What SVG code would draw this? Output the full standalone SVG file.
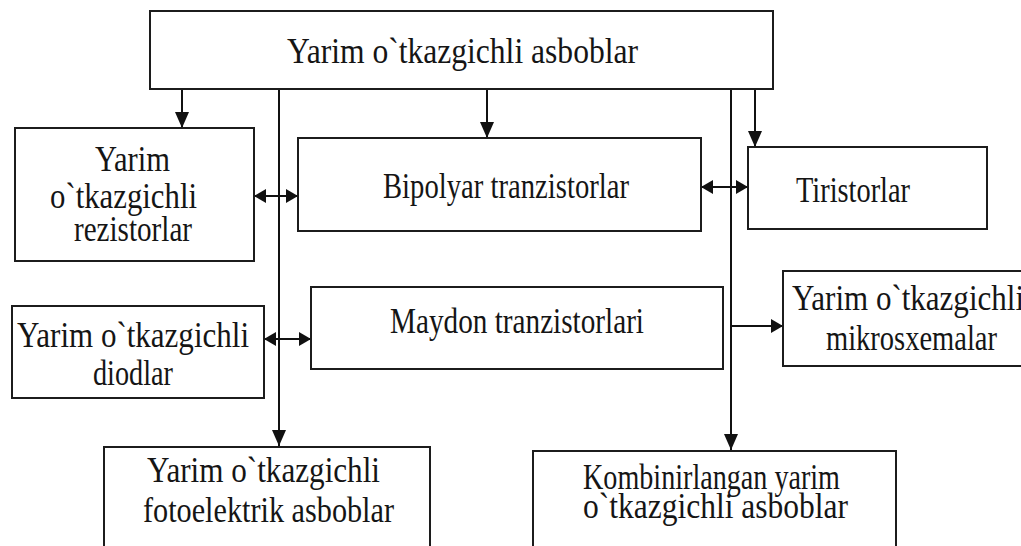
<svg xmlns="http://www.w3.org/2000/svg" width="1021" height="546" viewBox="0 0 1021 546">
  <style>
    .box { fill: #ffffff; stroke: #1c1c1c; stroke-width: 2; }
    .lbl { font-family: "Liberation Serif", "Times New Roman", serif; font-size: 36px; fill: #151515; }
    .wire { fill: none; stroke: #111111; stroke-width: 2; }
  </style>
  <defs>
    <!-- straight arrowhead for the vertical feeds -->
    <marker id="tip" viewBox="0 0 16 14" refX="16" refY="7" markerWidth="16" markerHeight="14" markerUnits="userSpaceOnUse" orient="auto-start-reverse">
      <path d="M0,0 L16,7 L0,14 Z" fill="#111111"/>
    </marker>
    <!-- shorter head used on the horizontal links -->
    <marker id="tipS" viewBox="0 0 12 14" refX="12" refY="7" markerWidth="12" markerHeight="14" markerUnits="userSpaceOnUse" orient="auto-start-reverse">
      <path d="M0,0 L12,7 L0,14 Z" fill="#111111"/>
    </marker>
  </defs>

  <rect width="1021" height="546" fill="#ffffff"/>

  <!-- connectors -->
  <g id="connectors">
    <line class="wire" x1="182" y1="89" x2="182" y2="128" marker-end="url(#tip)"/>
    <line class="wire" x1="487" y1="89" x2="487" y2="138" marker-end="url(#tip)"/>
    <line class="wire" x1="755" y1="89" x2="755" y2="147" marker-end="url(#tip)"/>
    <line class="wire" x1="279" y1="89" x2="279" y2="446" marker-end="url(#tip)"/>
    <line class="wire" x1="731" y1="89" x2="731" y2="450" marker-end="url(#tip)"/>
    <line class="wire" x1="254" y1="196" x2="298" y2="196" marker-start="url(#tipS)" marker-end="url(#tipS)"/>
    <line class="wire" x1="701" y1="187" x2="748" y2="187" marker-start="url(#tipS)" marker-end="url(#tipS)"/>
    <line class="wire" x1="264" y1="339" x2="311" y2="339" marker-start="url(#tipS)" marker-end="url(#tipS)"/>
    <line class="wire" x1="731" y1="326" x2="783" y2="326" marker-end="url(#tipS)"/>
  </g>

  <!-- top: semiconductor devices -->
  <g id="node-asboblar">
    <rect class="box" x="150" y="11" width="623" height="78"/>
    <text class="lbl" x="287" y="63" textLength="351" lengthAdjust="spacingAndGlyphs">Yarim o`tkazgichli asboblar</text>
  </g>

  <g id="node-rezistorlar">
    <rect class="box" x="15" y="128" width="239" height="133"/>
    <text class="lbl" x="95" y="171" textLength="75" lengthAdjust="spacingAndGlyphs">Yarim</text>
    <text class="lbl" x="50" y="208" textLength="147" lengthAdjust="spacingAndGlyphs">o`tkazgichli</text>
    <text class="lbl" x="74" y="241" textLength="118" lengthAdjust="spacingAndGlyphs">rezistorlar</text>
  </g>

  <g id="node-bipolyar">
    <rect class="box" x="298" y="138" width="403" height="93"/>
    <text class="lbl" x="383" y="198" textLength="246" lengthAdjust="spacingAndGlyphs">Bipolyar tranzistorlar</text>
  </g>

  <g id="node-tiristorlar">
    <rect class="box" x="748" y="147" width="239" height="82"/>
    <text class="lbl" x="796" y="202" textLength="114" lengthAdjust="spacingAndGlyphs">Tiristorlar</text>
  </g>

  <g id="node-mikrosxemalar">
    <rect class="box" x="783" y="271" width="260" height="95"/>
    <text class="lbl" x="792" y="310" textLength="232" lengthAdjust="spacingAndGlyphs">Yarim o`tkazgichli</text>
    <text class="lbl" x="826" y="350" textLength="171" lengthAdjust="spacingAndGlyphs">mikrosxemalar</text>
  </g>

  <g id="node-maydon">
    <rect class="box" x="311" y="287" width="412" height="82"/>
    <text class="lbl" x="390" y="333" textLength="254" lengthAdjust="spacingAndGlyphs">Maydon tranzistorlari</text>
  </g>

  <g id="node-diodlar">
    <rect class="box" x="12" y="306" width="252" height="92"/>
    <text class="lbl" x="17" y="347" textLength="232" lengthAdjust="spacingAndGlyphs">Yarim o`tkazgichli</text>
    <text class="lbl" x="93" y="385" textLength="80" lengthAdjust="spacingAndGlyphs">diodlar</text>
  </g>

  <g id="node-fotoelektrik">
    <rect class="box" x="104" y="447" width="326" height="120"/>
    <text class="lbl" x="147" y="482" textLength="233" lengthAdjust="spacingAndGlyphs">Yarim o`tkazgichli</text>
    <text class="lbl" x="143" y="522" textLength="251" lengthAdjust="spacingAndGlyphs">fotoelektrik asboblar</text>
  </g>

  <g id="node-kombinirlangan">
    <rect class="box" x="533" y="451" width="363" height="120"/>
    <text class="lbl" x="583" y="489" textLength="257" lengthAdjust="spacingAndGlyphs">Kombinirlangan yarim</text>
    <text class="lbl" x="583" y="518" textLength="265" lengthAdjust="spacingAndGlyphs">o`tkazgichli asboblar</text>
  </g>
</svg>
